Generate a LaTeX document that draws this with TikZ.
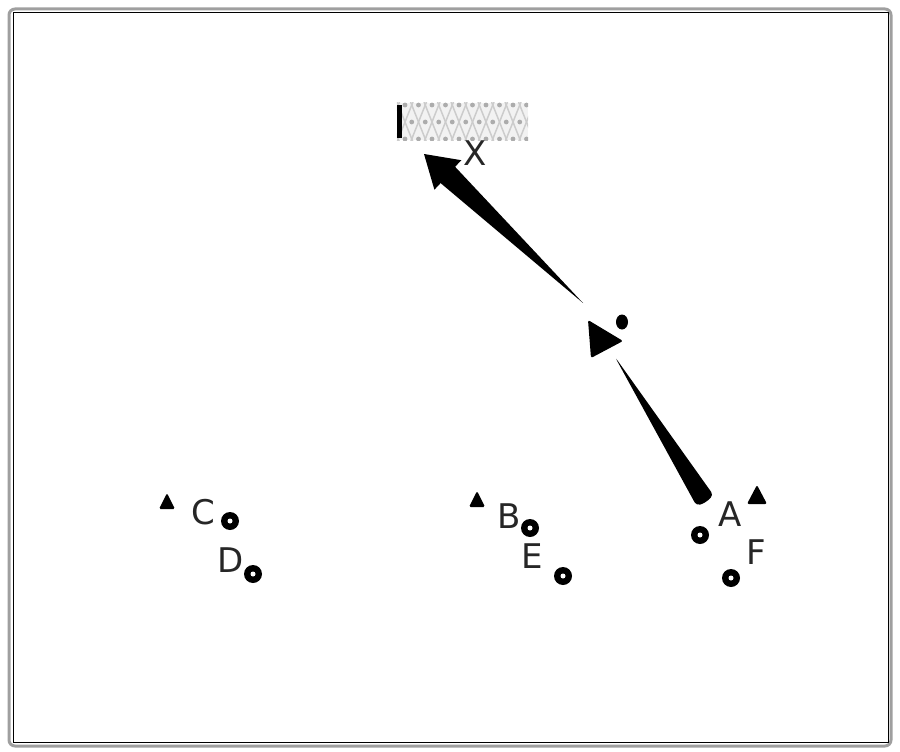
\documentclass[tikz,border=0pt]{standalone}
\usepackage{fontspec}
\setmainfont{DejaVu Sans}
\begin{document}
\begin{tikzpicture}[x=1pt,y=-1pt,
  lbl/.style={font=\fontsize{34}{34}\selectfont, inner sep=0pt, text=black!85},
  dotc/.style={circle, fill=black, minimum size=18pt, inner sep=0pt}]
\useasboundingbox (0,0) rectangle (900,752);
% frame
\draw[gray!75, line width=3pt, rounded corners=6pt] (9,9) rectangle (891,746);
\draw[black, line width=1pt] (13,13) rectangle (888,742);
% patterned box
\node[minimum width=131pt, minimum height=37pt, inner sep=0pt] (box) at (462.5,121.5) {};
\begin{scope}
\clip (box.north west) rectangle (box.south east);
\fill[gray!10] (box.north west) rectangle (box.south east);
\foreach \i in {-3,...,12} {
  \draw[gray!40, line width=1.5pt] (405+\i*13.5-13.5,88) -- ++(27,68);
  \draw[gray!40, line width=1.5pt] (405+\i*13.5+13.5,88) -- ++(-27,68);
}
\foreach \i in {0,...,10} {
  \fill[gray!65] (405+\i*13.5,105) circle (2.4pt);
  \fill[gray!65] (411.75+\i*13.5,122) circle (2.4pt);
  \fill[gray!65] (405+\i*13.5,139) circle (2.4pt);
}
\end{scope}
\draw[line width=5pt, black] (399.5,105) -- (399.5,138);
\node[lbl] (X) at (475,153) {X};
% big tapered arrow
\coordinate (atail) at (583,303);
\coordinate (atip) at (424,154);
\fill[black] (atail) -- (455.1,166.8) -- (461.3,160.2) -- (atip) -- (434.4,189.7) -- (440.6,183.1) -- cycle;
% triangle node
\fill[black, rounded corners=2pt] (588,320) -- (623,341) -- (591,358) -- cycle;
\fill[black] (622,322) ellipse (6pt and 7.5pt);
% wedge
\coordinate (wtail) at (615,357);
\fill[black, rounded corners=4pt] (wtail) -- (713.5,495.2) -- (705,503) -- (696.5,505.8) -- cycle;
% C / D group
\node[lbl] (C) at (203,512) {C};
\node[lbl] (D) at (231,560) {D};
\node[dotc] (c1) at (230,521) {};
\node[dotc] (c2) at (253,574) {};
\fill[black, rounded corners=1.5pt] (159,509) -- (167,493) -- (175,509) -- cycle;
% B / E group
\node[lbl] (B) at (509,516) {B};
\node[lbl] (E) at (532,556) {E};
\node[dotc] (c3) at (530,528) {};
\node[dotc] (c4) at (563,576) {};
\fill[black, rounded corners=1.5pt] (469,507) -- (477,491) -- (485,507) -- cycle;
% A / F group
\node[lbl] (A) at (730,514) {A};
\node[lbl] (F) at (756,552) {F};
\node[dotc] (c5) at (700,535) {};
\node[dotc] (c6) at (731,578) {};
\fill[black, rounded corners=2pt] (747,504) -- (757,485) -- (767,504) -- cycle;
% white inner dots
\foreach \c in {c1,c2,c3,c4,c5,c6} \fill[white] (\c) circle (2.5pt);
\end{tikzpicture}
\end{document}
